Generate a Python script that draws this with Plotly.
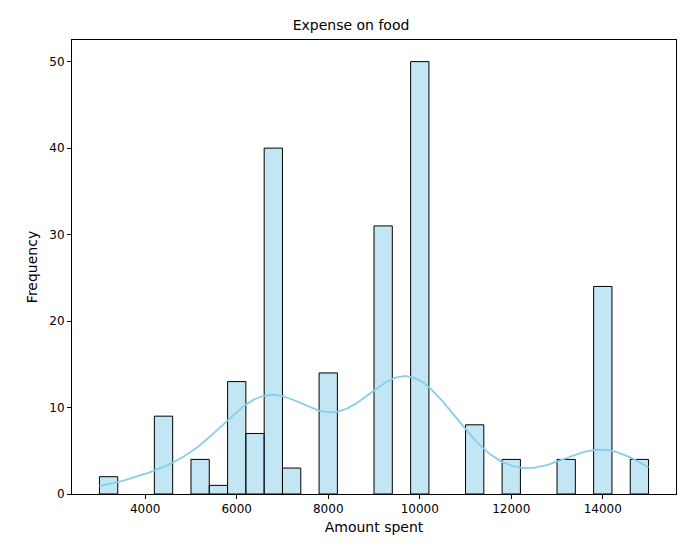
import numpy as np
import plotly.graph_objects as go

bin_starts = [3000, 4200, 5000, 5400, 5800, 6200, 6600, 7000, 7800, 9000, 9800, 11000, 11800, 13000, 13800, 14600]
counts = [2, 9, 4, 1, 13, 7, 40, 3, 14, 31, 50, 8, 4, 4, 24, 4]
bin_width = 400
x_ticks = [4000, 6000, 8000, 10000, 12000, 14000]
x_tick_labels = ["4000", "6000", "8000", "10000", "12000", "14000"]
y_ticks = [0, 10, 20, 30, 40, 50]

centers = np.array(bin_starts) + bin_width / 2
w = np.array(counts, dtype=float)
n = w.sum()
mean = (centers * w).sum() / n
std = np.sqrt(((centers - mean) ** 2 * w).sum() / (n - 1))
bw = std * n ** (-1 / 5)
xs = np.linspace(3000, 15000, 300)
dens = (w[None, :] * np.exp(-0.5 * ((xs[:, None] - centers[None, :]) / bw) ** 2)).sum(1) / (n * bw * np.sqrt(2 * np.pi))
kde = dens * n * bin_width

fig = go.Figure()
fig.add_bar(x=centers, y=counts, width=bin_width,
            marker=dict(color="rgba(135,206,235,0.5)", line=dict(color="black", width=1)))
fig.add_scatter(x=xs, y=kde, mode="lines", line=dict(color="skyblue", width=1.8))
fig.update_layout(
    width=686, height=547, showlegend=False,
    paper_bgcolor="white", plot_bgcolor="white",
    margin=dict(l=64, r=18, t=32, b=61),
    font=dict(family="DejaVu Sans", size=12, color="black"),
    title=dict(text="Expense on food", x=0.5, xanchor="center", y=0.968, yanchor="middle", font=dict(size=14)),
)
axis = dict(showgrid=False, zeroline=False, showline=True, linecolor="black", mirror=True,
            ticks="outside", ticklen=4, tickcolor="black", automargin=False)
fig.update_xaxes(range=[2400, 15600], tickvals=x_ticks, ticktext=x_tick_labels,
                 title=dict(text="Amount spent", standoff=6), **axis)
fig.update_yaxes(range=[0, 52.5], tickvals=y_ticks, title=dict(text="Frequency", standoff=8), **axis)
fig.write_html("out.html")
